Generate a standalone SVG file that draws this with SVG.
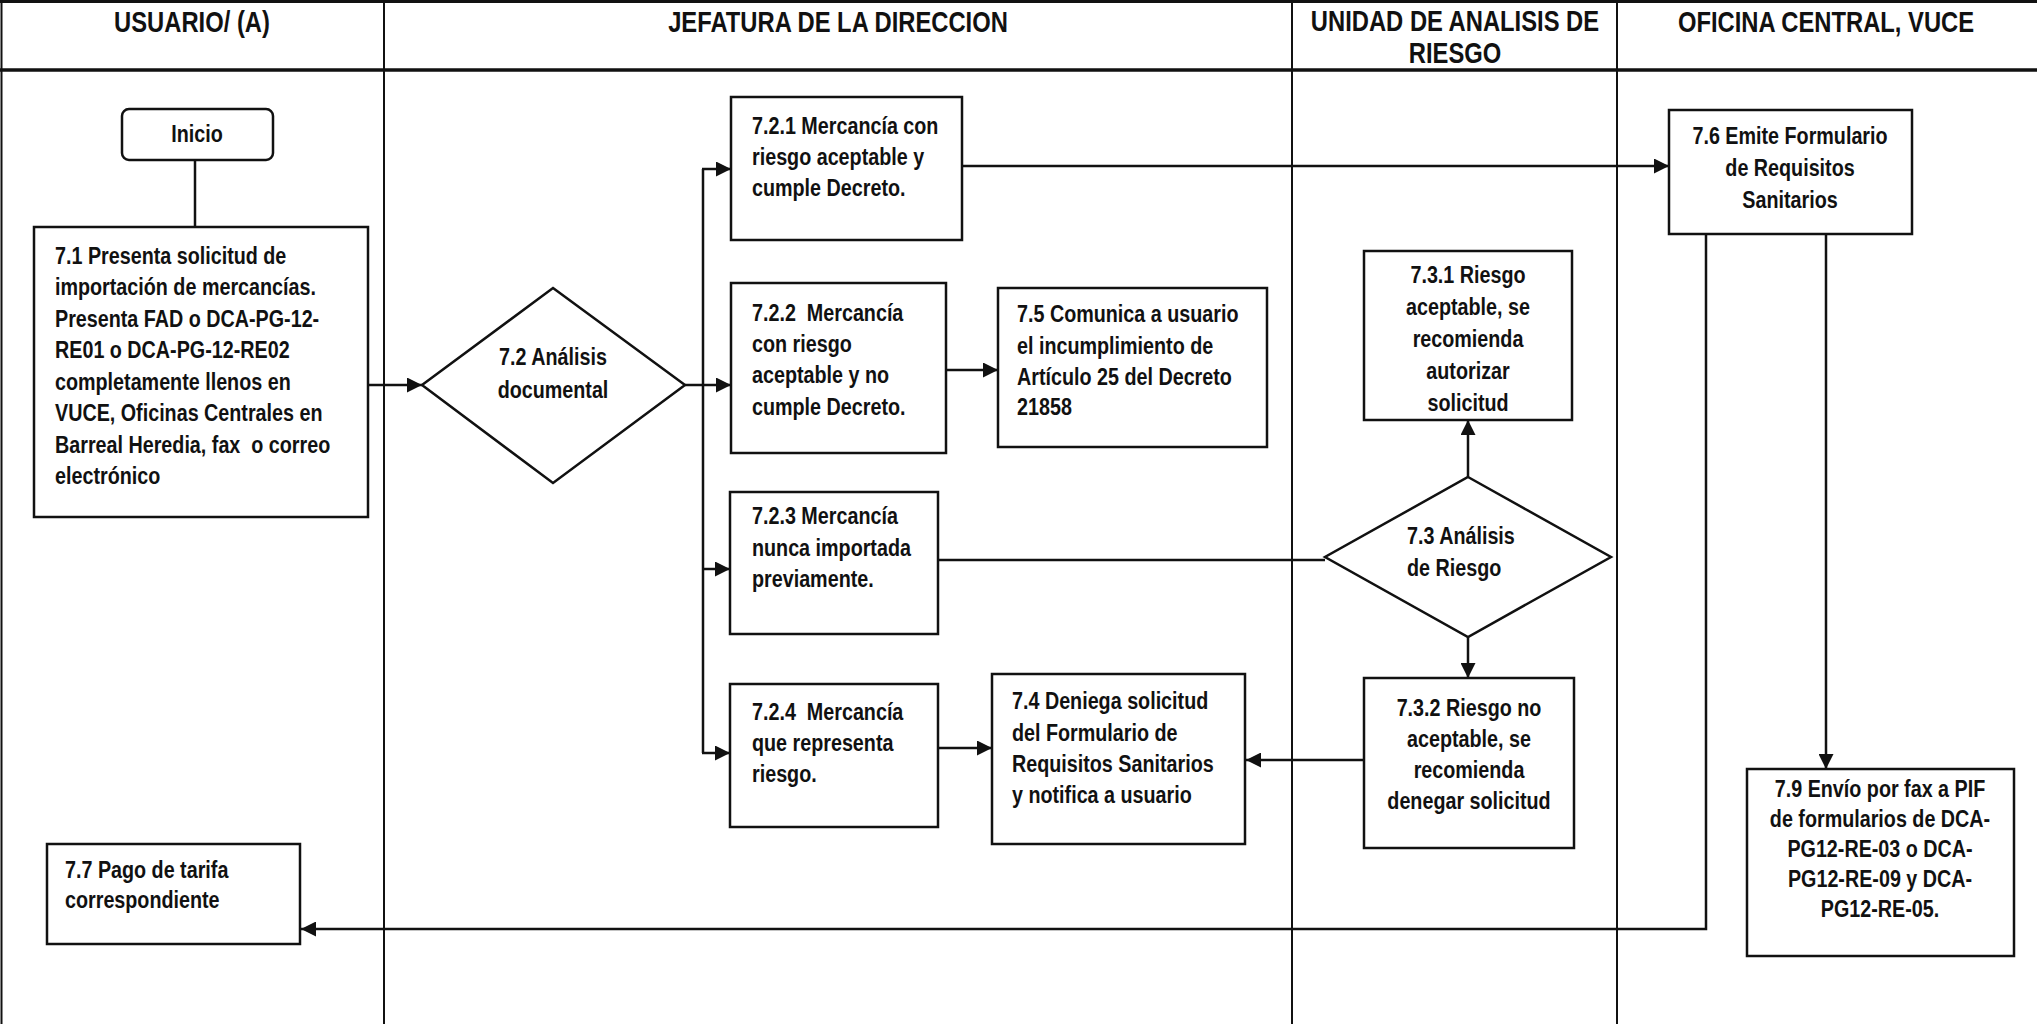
<svg xmlns="http://www.w3.org/2000/svg" width="2037" height="1024" viewBox="0 0 2037 1024">
<defs>
<style>
.t{font-family:"Liberation Sans",Arial,sans-serif;font-weight:bold;font-size:23.5px;fill:#111}
.h{font-family:"Liberation Sans",Arial,sans-serif;font-weight:bold;font-size:29px;fill:#111;text-anchor:middle}
.c{text-anchor:middle}
.box{fill:#fff;stroke:#111;stroke-width:2.5}
.lane{stroke:#111;stroke-width:2;fill:none}
.con{stroke:#111;stroke-width:2.5;fill:none}
.arr{marker-end:url(#ah)}
</style>
<marker id="ah" viewBox="0 0 10 10" refX="10" refY="5" markerWidth="15" markerHeight="15" markerUnits="userSpaceOnUse" orient="auto">
<path d="M0,0 L10,5 L0,10 Z" fill="#111"/>
</marker>
</defs>
<rect width="2037" height="1024" fill="#fff"/>
<g id="lanes">
<line class="lane" x1="0" y1="1.5" x2="2037" y2="1.5" style="stroke-width:3"/>
<line class="lane" x1="0" y1="70" x2="2037" y2="70" style="stroke-width:3.5"/>
<line class="lane" x1="1.5" y1="0" x2="1.5" y2="1024"/>
<line class="lane" x1="384" y1="0" x2="384" y2="1024"/>
<line class="lane" x1="1292" y1="0" x2="1292" y2="1024"/>
<line class="lane" x1="1617" y1="0" x2="1617" y2="1024"/>
<text class="h" transform="matrix(.82 0 0 1 192 0)" y="32">USUARIO/ (A)</text>
<text class="h" transform="matrix(.82 0 0 1 838 0)" y="32">JEFATURA DE LA DIRECCION</text>
<text class="h" transform="matrix(.82 0 0 1 1455 0)" y="31">UNIDAD DE ANALISIS DE</text>
<text class="h" transform="matrix(.82 0 0 1 1455 0)" y="63">RIESGO</text>
<text class="h" transform="matrix(.82 0 0 1 1826 0)" y="32">OFICINA CENTRAL, VUCE</text>
</g>
<g id="connectors">
<line class="con" x1="195" y1="160" x2="195" y2="227"/>
<line class="con arr" x1="368" y1="385" x2="422" y2="385"/>
<line class="con arr" x1="685" y1="385" x2="731" y2="385"/>
<line class="con" x1="703" y1="169" x2="703" y2="753"/>
<line class="con arr" x1="702" y1="169" x2="731" y2="169"/>
<line class="con arr" x1="702" y1="569" x2="730" y2="569"/>
<line class="con arr" x1="702" y1="753" x2="730" y2="753"/>
<line class="con arr" x1="961" y1="166" x2="1669" y2="166"/>
<line class="con arr" x1="946" y1="370" x2="998" y2="370"/>
<line class="con" x1="938" y1="560" x2="1325" y2="560"/>
<line class="con arr" x1="1468" y1="477" x2="1468" y2="420"/>
<line class="con arr" x1="1468" y1="637" x2="1468" y2="678"/>
<line class="con arr" x1="1364" y1="760" x2="1246" y2="760"/>
<line class="con arr" x1="938" y1="748" x2="992" y2="748"/>
<line class="con arr" x1="1826" y1="234" x2="1826" y2="769"/>
<polyline class="con arr" points="1706,234 1706,929 301,929"/>
</g>
<g id="inicio">
<rect class="box" x="122" y="109" width="151" height="51" rx="7"/>
<text class="t c" transform="matrix(.84 0 0 1 197 0)" y="142">Inicio</text>
</g>
<g id="n71">
<rect class="box" x="34" y="227" width="334" height="290"/>
<text class="t" transform="matrix(.84 0 0 1 55 0)" y="264">7.1 Presenta solicitud de</text>
<text class="t" transform="matrix(.84 0 0 1 55 0)" y="295.5">importación de mercancías.</text>
<text class="t" transform="matrix(.84 0 0 1 55 0)" y="327">Presenta FAD o DCA-PG-12-</text>
<text class="t" transform="matrix(.84 0 0 1 55 0)" y="358.5">RE01 o DCA-PG-12-RE02</text>
<text class="t" transform="matrix(.84 0 0 1 55 0)" y="390">completamente llenos en</text>
<text class="t" transform="matrix(.84 0 0 1 55 0)" y="421.5">VUCE, Oficinas Centrales en</text>
<text class="t" transform="matrix(.84 0 0 1 55 0)" y="453" xml:space="preserve">Barreal Heredia, fax  o correo</text>
<text class="t" transform="matrix(.84 0 0 1 55 0)" y="484.5">electrónico</text>
</g>
<g id="n72">
<polygon class="box" points="553,288 685,385 553,483 422,385"/>
<text class="t c" transform="matrix(.84 0 0 1 553 0)" y="365">7.2 Análisis</text>
<text class="t c" transform="matrix(.84 0 0 1 553 0)" y="398">documental</text>
</g>
<g id="n721">
<rect class="box" x="731" y="97" width="231" height="143"/>
<text class="t" transform="matrix(.84 0 0 1 752 0)" y="134">7.2.1 Mercancía con</text>
<text class="t" transform="matrix(.84 0 0 1 752 0)" y="165">riesgo aceptable y</text>
<text class="t" transform="matrix(.84 0 0 1 752 0)" y="196">cumple Decreto.</text>
</g>
<g id="n722">
<rect class="box" x="731" y="283" width="215" height="170"/>
<text class="t" transform="matrix(.84 0 0 1 752 0)" y="321" xml:space="preserve">7.2.2  Mercancía</text>
<text class="t" transform="matrix(.84 0 0 1 752 0)" y="352">con riesgo</text>
<text class="t" transform="matrix(.84 0 0 1 752 0)" y="383">aceptable y no</text>
<text class="t" transform="matrix(.84 0 0 1 752 0)" y="415">cumple Decreto.</text>
</g>
<g id="n75">
<rect class="box" x="998" y="288" width="269" height="159"/>
<text class="t" transform="matrix(.84 0 0 1 1017 0)" y="322">7.5 Comunica a usuario</text>
<text class="t" transform="matrix(.84 0 0 1 1017 0)" y="354">el incumplimiento de</text>
<text class="t" transform="matrix(.84 0 0 1 1017 0)" y="385">Artículo 25 del Decreto</text>
<text class="t" transform="matrix(.84 0 0 1 1017 0)" y="415">21858</text>
</g>
<g id="n723">
<rect class="box" x="730" y="492" width="208" height="142"/>
<text class="t" transform="matrix(.84 0 0 1 752 0)" y="524">7.2.3 Mercancía</text>
<text class="t" transform="matrix(.84 0 0 1 752 0)" y="556">nunca importada</text>
<text class="t" transform="matrix(.84 0 0 1 752 0)" y="587">previamente.</text>
</g>
<g id="n724">
<rect class="box" x="730" y="684" width="208" height="143"/>
<text class="t" transform="matrix(.84 0 0 1 752 0)" y="720" xml:space="preserve">7.2.4  Mercancía</text>
<text class="t" transform="matrix(.84 0 0 1 752 0)" y="751">que representa</text>
<text class="t" transform="matrix(.84 0 0 1 752 0)" y="782">riesgo.</text>
</g>
<g id="n74">
<rect class="box" x="992" y="674" width="253" height="170"/>
<text class="t" transform="matrix(.84 0 0 1 1012 0)" y="709">7.4 Deniega solicitud</text>
<text class="t" transform="matrix(.84 0 0 1 1012 0)" y="741">del Formulario de</text>
<text class="t" transform="matrix(.84 0 0 1 1012 0)" y="772">Requisitos Sanitarios</text>
<text class="t" transform="matrix(.84 0 0 1 1012 0)" y="803">y notifica a usuario</text>
</g>
<g id="n731">
<rect class="box" x="1364" y="251" width="208" height="169"/>
<text class="t c" transform="matrix(.84 0 0 1 1468 0)" y="283">7.3.1 Riesgo</text>
<text class="t c" transform="matrix(.84 0 0 1 1468 0)" y="315">aceptable, se</text>
<text class="t c" transform="matrix(.84 0 0 1 1468 0)" y="347">recomienda</text>
<text class="t c" transform="matrix(.84 0 0 1 1468 0)" y="379">autorizar</text>
<text class="t c" transform="matrix(.84 0 0 1 1468 0)" y="411">solicitud</text>
</g>
<g id="n73">
<polygon class="box" points="1468,477 1611,557 1468,637 1325,557"/>
<text class="t" transform="matrix(.84 0 0 1 1407 0)" y="544">7.3 Análisis</text>
<text class="t" transform="matrix(.84 0 0 1 1407 0)" y="576">de Riesgo</text>
</g>
<g id="n732">
<rect class="box" x="1364" y="678" width="210" height="170"/>
<text class="t c" transform="matrix(.84 0 0 1 1469 0)" y="716">7.3.2 Riesgo no</text>
<text class="t c" transform="matrix(.84 0 0 1 1469 0)" y="747">aceptable, se</text>
<text class="t c" transform="matrix(.84 0 0 1 1469 0)" y="778">recomienda</text>
<text class="t c" transform="matrix(.84 0 0 1 1469 0)" y="809">denegar solicitud</text>
</g>
<g id="n76">
<rect class="box" x="1669" y="110" width="243" height="124"/>
<text class="t c" transform="matrix(.84 0 0 1 1790 0)" y="144">7.6 Emite Formulario</text>
<text class="t c" transform="matrix(.84 0 0 1 1790 0)" y="176">de Requisitos</text>
<text class="t c" transform="matrix(.84 0 0 1 1790 0)" y="208">Sanitarios</text>
</g>
<g id="n79">
<rect class="box" x="1747" y="769" width="267" height="187"/>
<text class="t c" transform="matrix(.84 0 0 1 1880 0)" y="797">7.9 Envío por fax a PIF</text>
<text class="t c" transform="matrix(.84 0 0 1 1880 0)" y="827">de formularios de DCA-</text>
<text class="t c" transform="matrix(.84 0 0 1 1880 0)" y="857">PG12-RE-03 o DCA-</text>
<text class="t c" transform="matrix(.84 0 0 1 1880 0)" y="887">PG12-RE-09 y DCA-</text>
<text class="t c" transform="matrix(.84 0 0 1 1880 0)" y="917">PG12-RE-05.</text>
</g>
<g id="n77">
<rect class="box" x="47" y="844" width="253" height="100"/>
<text class="t" transform="matrix(.84 0 0 1 65 0)" y="878">7.7 Pago de tarifa</text>
<text class="t" transform="matrix(.84 0 0 1 65 0)" y="908">correspondiente</text>
</g>
</svg>
